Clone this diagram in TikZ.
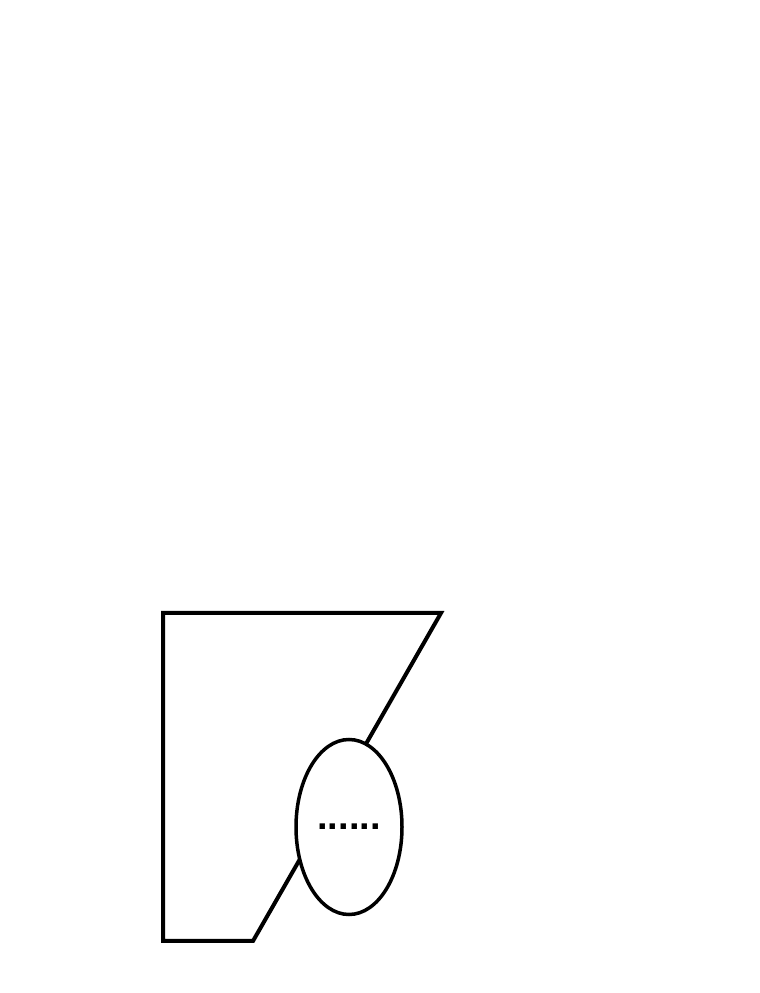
\documentclass[tikz,border=0pt]{standalone}
\usepackage{fontspec}
\setmainfont{Liberation Sans}
\usetikzlibrary{shapes.geometric}
\begin{document}
\begin{tikzpicture}[x=1pt,y=1pt,
  outline/.style={draw=black,line width=4pt,line join=miter},
  blob/.style={draw=black,fill=white,line width=3.5pt,ellipse,minimum width=106pt,minimum height=175pt,inner sep=0pt}]
\useasboundingbox (0,0) rectangle (760,993);
\coordinate (p1) at (163,380);
\coordinate (p2) at (441,380);
\coordinate (p3) at (253,52);
\coordinate (p4) at (163,52);
\draw[outline] (p1) -- (p2) -- (p3) -- (p4) -- cycle;
\node[blob] (oval) at (349,166) {};
\node[anchor=base,inner sep=0pt,font=\bfseries\fontsize{38}{38}\selectfont] (dots) at (349,163) {......};
\end{tikzpicture}
\end{document}
